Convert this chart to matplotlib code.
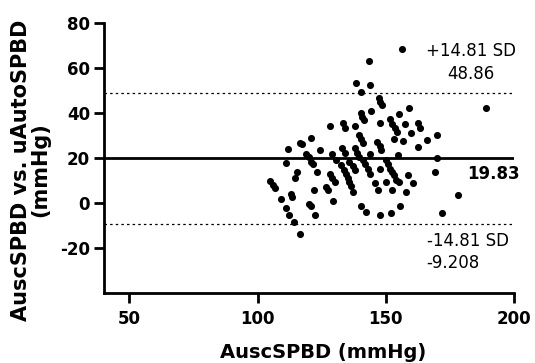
import numpy as np
import matplotlib.pyplot as plt

plt.rcParams["axes.unicode_minus"] = False

# Bland-Altman data: mean (x) and difference (y)
auscspbd = [104.9, 105.8, 106.7, 109.1, 111.0, 112.2, 114.0, 116.7, 111.1, 112.0,
            113.1, 113.5, 114.5, 115.2, 116.7, 117.2, 118.9, 119.9, 120.8, 120.6,
            120.0, 120.6, 122.1, 122.5, 123.0, 121.5, 124.4, 128.3, 129.1, 126.7,
            127.3, 128.3, 129.1, 130.0, 129.3, 130.6, 133.2, 133.9, 133.0, 133.9,
            132.6, 133.5, 134.5, 135.2, 135.8, 136.5, 135.8, 137.1, 137.8, 137.1,
            137.8, 137.8, 138.7, 139.5, 138.5, 140.4, 143.9, 143.4, 147.2, 147.8,
            148.4, 144.3, 140.1, 140.7, 141.3, 139.7, 140.4, 141.0, 141.0, 142.0,
            143.0, 143.7, 143.9, 140.4, 142.2, 145.6, 146.9, 146.7, 147.6, 148.2,
            147.6, 147.6, 147.6, 149.9, 150.2, 150.8, 151.5, 152.5, 151.5, 152.5,
            153.4, 154.2, 152.2, 152.1, 153.1, 153.2, 154.1, 155.0, 154.7, 155.1,
            155.4, 156.1, 156.5, 157.5, 157.7, 158.7, 160.6, 158.9, 159.7, 162.5,
            163.2, 162.6, 166.1, 170.0, 170.0, 169.1, 172.0, 178.1, 189.1]
difference = [9.5, 8.0, 6.5, 1.5, -2.4, -5.3, -8.6, -13.7, 17.6, 23.7,
              3.7, 2.5, 10.8, 13.7, 26.7, 25.9, 21.8, 20.1, 18.0, 28.9,
              -0.4, -1.6, 5.5, -5.4, 13.6, 17.1, 23.6, 34.0, 21.8, 6.9,
              5.5, 12.9, 11.1, 9.2, 0.6, 18.8, 35.5, 33.0, 24.1, 22.3,
              16.6, 14.7, 12.9, 11.1, 9.2, 7.3, 18.1, 16.2, 14.4, 4.7,
              34.0, 24.1, 22.3, 20.3, 53.1, 49.0, 52.2, 63.1, 46.3, 44.8,
              43.3, 40.9, 39.9, 38.1, 36.7, 30.0, 28.4, 26.6, 19.2, 17.1,
              15.1, 12.9, 21.8, -1.2, -4.2, 8.7, 5.5, 27.0, 25.1, 23.3,
              35.2, 15.1, -5.3, 9.3, 19.2, 17.1, 15.1, 13.6, 37.0, 35.0,
              33.0, 31.5, 5.5, -4.5, 28.2, 12.2, 10.2, 9.2, 21.1, 39.3,
              -1.2, 68.2, 27.3, 35.1, 4.7, 12.2, 8.7, 42.1, 31.0, 35.5,
              33.2, 24.9, 28.0, 30.0, 19.9, 13.6, -4.5, 3.6, 41.9]

bias = 19.83
upper = 48.86
lower = -9.208

fig = plt.figure(figsize=(5.35, 3.63), dpi=100)
ax = fig.add_axes([0.194, 0.193, 0.767, 0.745])

ax.axhline(bias, color="black", lw=2)
ax.axhline(upper, color="black", lw=0.9, ls=(0, (2, 2.5)))
ax.axhline(lower, color="black", lw=0.9, ls=(0, (2, 2.5)))
ax.scatter(auscspbd, difference, s=26, color="black", zorder=3, linewidths=0)

ax.set_xlim(40, 200)
ax.set_ylim(-40, 80)
ax.set_xticks([50, 100, 150, 200])
ax.set_yticks([-20, 0, 20, 40, 60, 80])

for s in ["top", "right"]:
    ax.spines[s].set_visible(False)
for s in ["left", "bottom"]:
    ax.spines[s].set_linewidth(2)
ax.tick_params(width=2, length=7, labelsize=12, pad=3)
ax.tick_params(axis="x", pad=5)
for lab in ax.get_xticklabels() + ax.get_yticklabels():
    lab.set_fontweight("bold")

ax.set_xlabel("AuscSPBD (mmHg)", fontsize=14, fontweight="bold")
ax.xaxis.set_label_coords(0.534, -0.185)
ax.set_ylabel("AuscSPBD vs. uAutoSPBD\n(mmHg)", fontsize=15, fontweight="bold",
              linespacing=0.95)
ax.yaxis.set_label_coords(-0.13, 0.455)

ax.text(183.0, 67.4, "+14.81 SD", ha="center", va="center", fontsize=12)
ax.text(183.0, 57.0, "48.86", ha="center", va="center", fontsize=12)
ax.text(202.3, 12.9, "19.83", ha="right", va="center", fontsize=12, fontweight="bold")
ax.text(165.9, -16.8, "-14.81 SD", ha="left", va="center", fontsize=12)
ax.text(165.9, -26.9, "-9.208", ha="left", va="center", fontsize=12)

fig.savefig("out.png", dpi=100)
